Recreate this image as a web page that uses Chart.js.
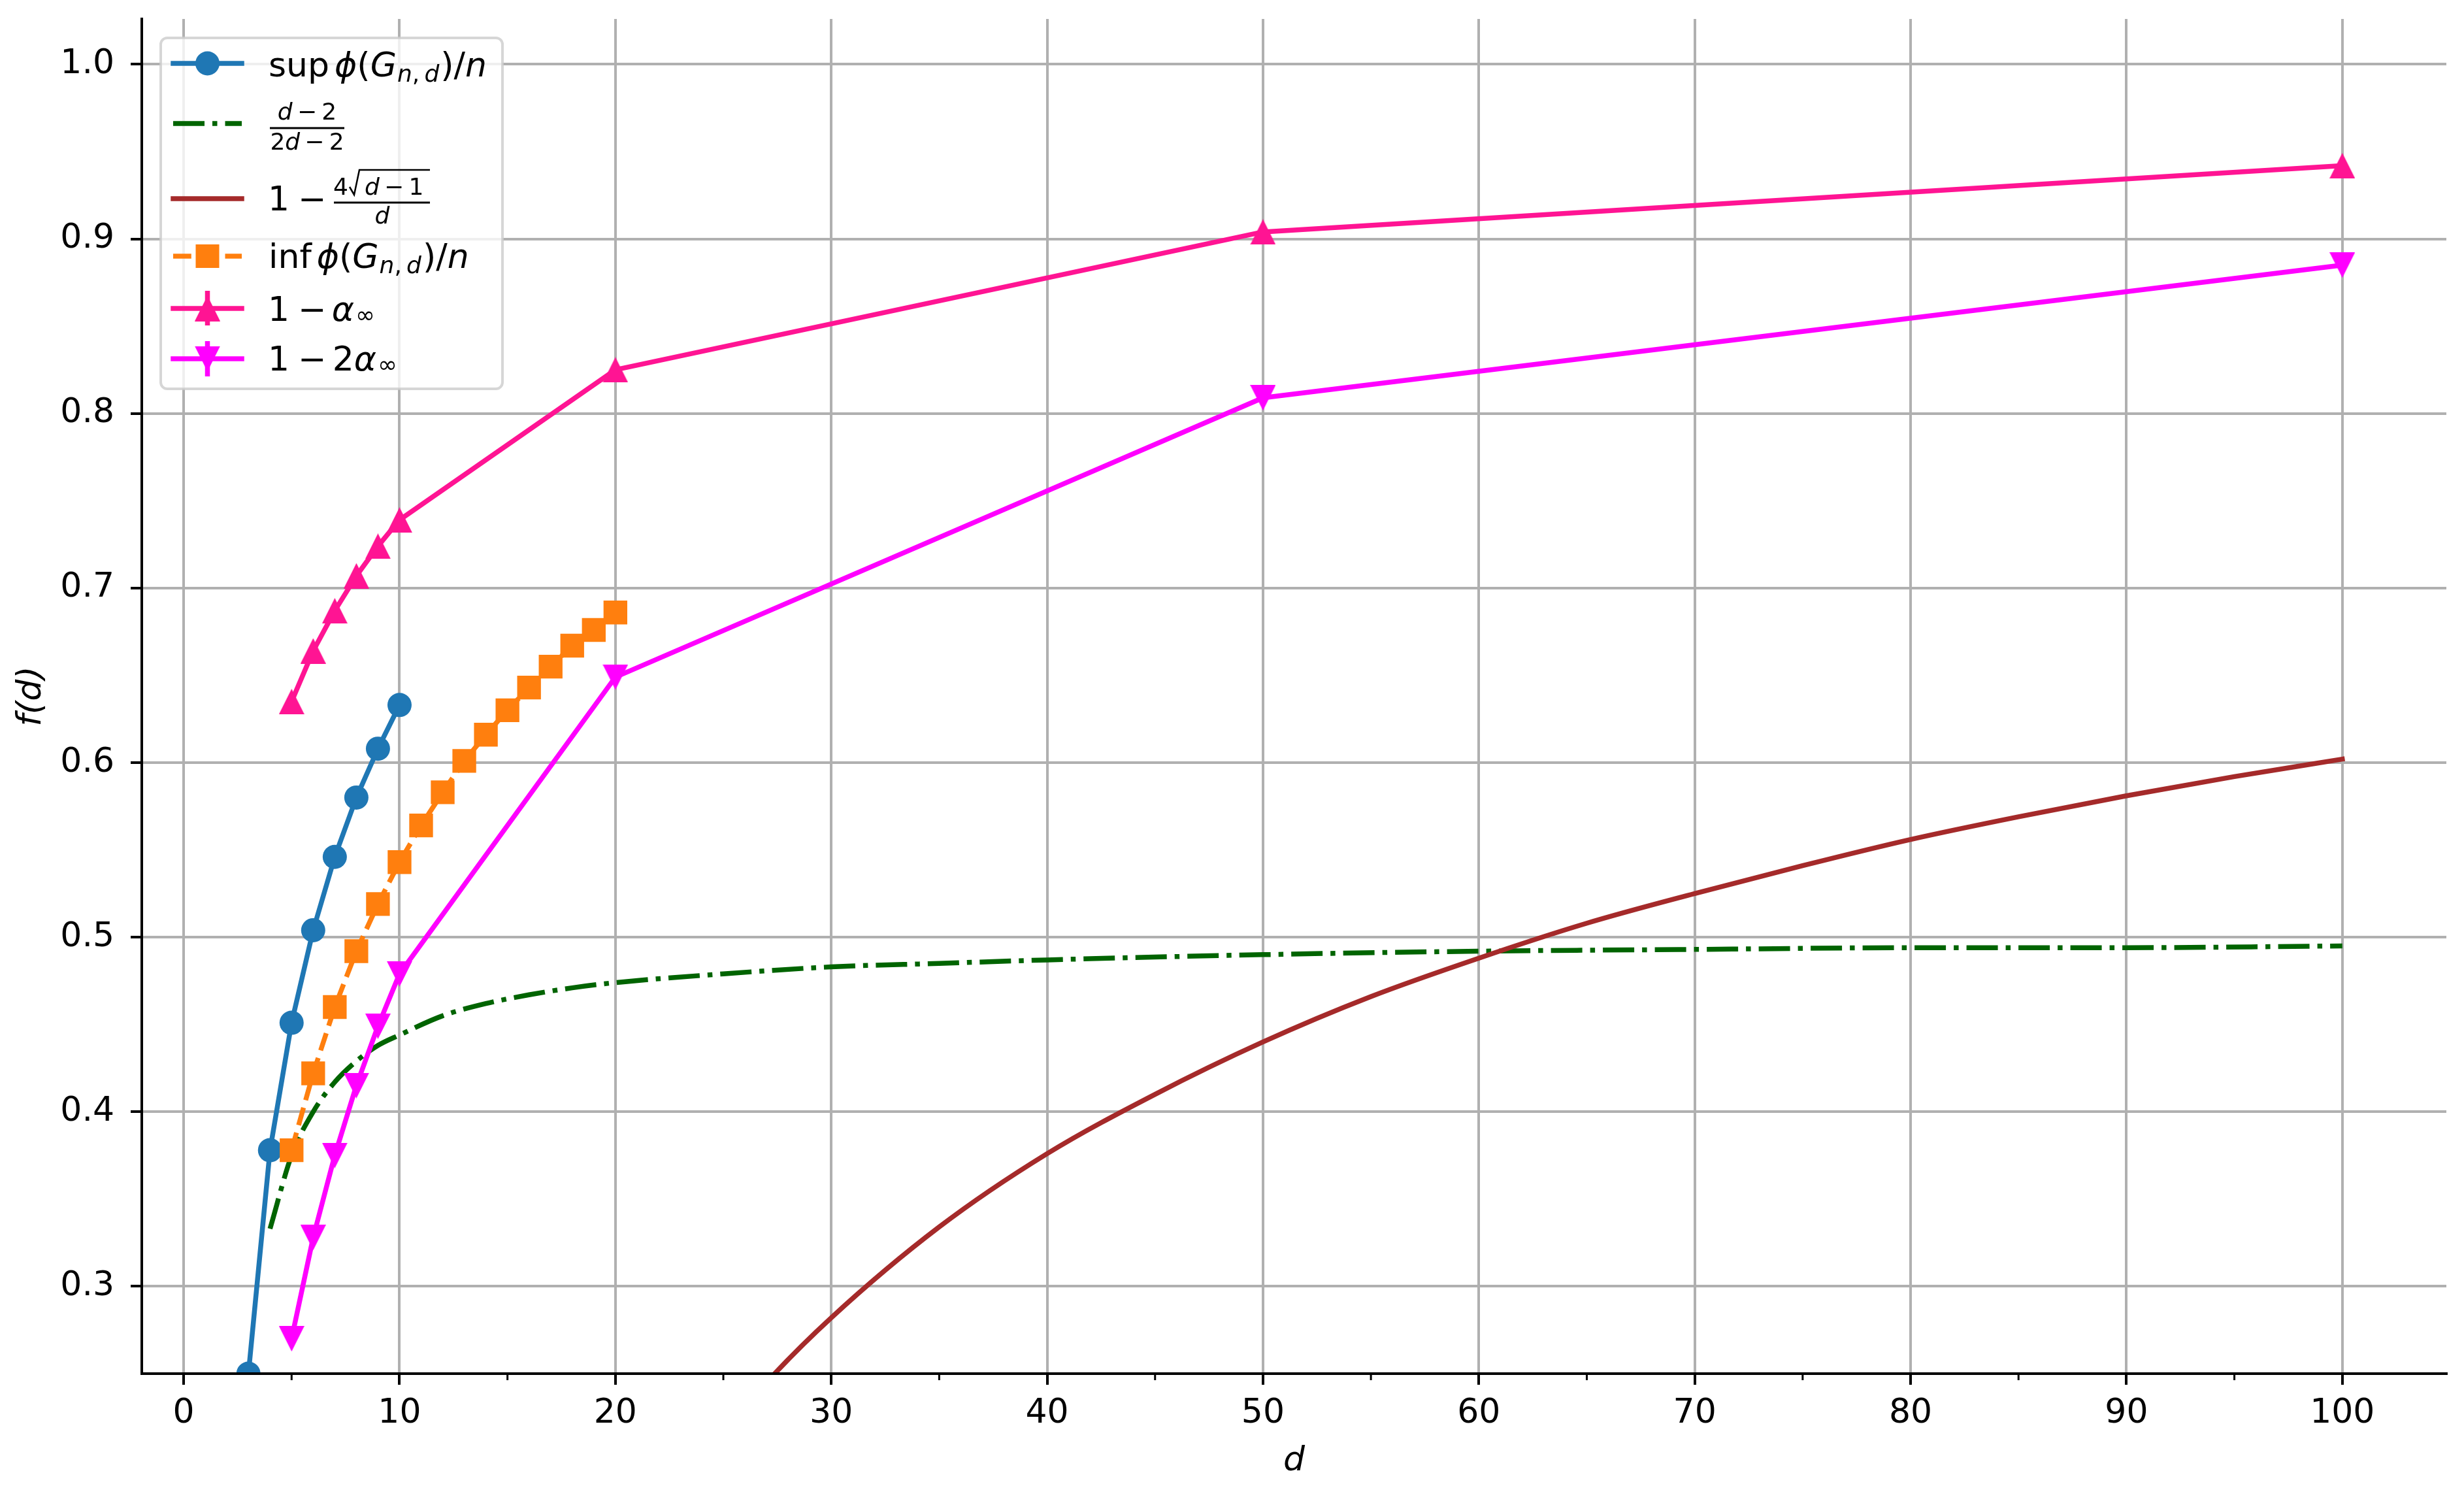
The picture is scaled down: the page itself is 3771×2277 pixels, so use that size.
<!DOCTYPE html>
<html>
<head>
<meta charset="utf-8">
<script src="https://cdn.jsdelivr.net/npm/chart.js@4.4.1/dist/chart.umd.min.js"></script>
<style>
html,body{margin:0;padding:0;background:#fff;overflow:hidden}
canvas{display:block}
</style>
</head>
<body>
<canvas id="chart" width="3771" height="2277"></canvas>
<script>
// values
const dSup=[3,4,5,6,7,8,9,10];
const supVals=[0.250,0.378,0.451,0.504,0.546,0.580,0.608,0.633];

const dInf=[5,6,7,8,9,10,11,12,13,14,15,16,17,18,19,20];
const infVals=[0.378,0.422,0.460,0.492,0.519,0.543,0.564,0.583,0.601,0.616,0.630,0.643,0.655,0.667,0.676,0.686];

const dAlpha=[5,6,7,8,9,10,20,50,100];
const oneMinusAlpha=[0.635,0.664,0.687,0.707,0.724,0.739,0.825,0.904,0.942];
const oneMinus2Alpha=[0.270,0.328,0.375,0.415,0.449,0.479,0.649,0.809,0.885];

const dHalf=[4,5,6,7,8,9,10,12,14,16,18,20,25,30,35,40,50,60,70,80,90,100];
const halfVals=[0.333,0.375,0.400,0.417,0.429,0.438,0.444,0.455,0.462,0.467,0.471,0.474,0.479,0.483,0.485,0.487,0.490,0.492,0.493,0.494,0.494,0.495];

const dRam=[25,27,30,35,40,45,50,55,60,65,70,75,80,85,90,95,100];
const ramVals=[0.216,0.245,0.282,0.334,0.376,0.410,0.440,0.466,0.488,0.508,0.525,0.541,0.556,0.569,0.581,0.592,0.602];

const xTicks=[0,10,20,30,40,50,60,70,80,90,100];
const xMinor=[5,15,25,35,45,55,65,75,85,95];
const yTicks=[0.3,0.4,0.5,0.6,0.7,0.8,0.9,1.0];

const FONT='"DejaVu Sans", sans-serif';
const FS=52;
const LW=7.5;
const C={sup:'#1f77b4',half:'#006400',ram:'#a52a2a',inf:'#ff7f0e',a1:'#ff1493',a2:'#ff00ff'};

function tri(color,down){
 const s=39,c=document.createElement('canvas');
 c.width=s;c.height=s;
 const g=c.getContext('2d');
 g.fillStyle=color;g.beginPath();
 if(down){g.moveTo(0,0);g.lineTo(s,0);g.lineTo(s/2,s);}
 else{g.moveTo(s/2,0);g.lineTo(s,s);g.lineTo(0,s);}
 g.closePath();g.fill();
 return c;
}
const triUp=tri(C.a1,false), triDown=tri(C.a2,true);

const pts=(xs,ys)=>xs.map((x,i)=>({x,y:ys[i]}));

function put(ctx,s,x,y,size,italic){
 ctx.font=(italic?'italic ':'')+size+'px '+FONT;
 ctx.fillText(s,x,y);
 return x+ctx.measureText(s).width;
}
function runsWidth(ctx,runs,size){
 let w=0;
 runs.forEach(r=>{ctx.font=(r[1]?'italic ':'')+size+'px '+FONT;w+=ctx.measureText(r[0]).width;});
 return w;
}
function putRuns(ctx,runs,cx,y,size){
 let x=cx-runsWidth(ctx,runs,size)/2;
 runs.forEach(r=>{x=put(ctx,r[0],x,y,size,r[1]);});
}
function phiG(ctx,x,y){
 x=put(ctx,'\u03D5',x,y,FS,true);
 x=put(ctx,'(',x,y,FS);
 x=put(ctx,'G',x,y,FS,true);
 x=put(ctx,'n',x+1,y+8,36,true);
 x=put(ctx,',\u2009',x,y+8,36);
 x=put(ctx,'d',x,y+8,36,true);
 x=put(ctx,')',x+2,y,FS);
 x=put(ctx,'/',x,y,FS);
 put(ctx,'n',x,y,FS,true);
}

const decor={
 id:'decor',
 afterDatasetsDraw(chart){
  const {ctx,chartArea:a,scales:{x}}=chart;
  ctx.save();
  ctx.strokeStyle='#000';
  ctx.lineWidth=3;
  xMinor.forEach(v=>{
   const p=x.getPixelForValue(v);
   ctx.beginPath();ctx.moveTo(p,a.bottom);ctx.lineTo(p,a.bottom+10);ctx.stroke();
  });
  ctx.lineWidth=4;
  ctx.lineCap='square';
  ctx.beginPath();
  ctx.moveTo(a.left,a.top);ctx.lineTo(a.left,a.bottom);ctx.lineTo(a.right,a.bottom);
  ctx.stroke();
  ctx.restore();
 },
 afterDraw(chart){
  const ctx=chart.ctx;
  ctx.save();
  // frame
  ctx.beginPath();
  ctx.roundRect(246,58,523,537,10);
  ctx.fillStyle='rgba(255,255,255,0.8)';
  ctx.fill();
  ctx.lineWidth=4;
  ctx.strokeStyle='rgba(204,204,204,0.8)';
  ctx.stroke();

  const rows=[97,189,304,392,472,549];
  const hx0=265,hx1=370,hm=317.5;
  const line=(y,color,dash)=>{
   ctx.save();
   ctx.strokeStyle=color;ctx.lineWidth=LW;
   ctx.setLineDash(dash||[]);
   ctx.lineCap=dash?'butt':'square';
   ctx.beginPath();ctx.moveTo(hx0,y);ctx.lineTo(hx1,y);ctx.stroke();
   ctx.restore();
  };
  // handles
  line(rows[0],C.sup);
  ctx.fillStyle=C.sup;ctx.beginPath();ctx.arc(hm,rows[0],18.5,0,Math.PI*2);ctx.fill();
  line(rows[1],C.half,[48,12,7.5,12]);
  line(rows[2],C.ram);
  line(rows[3],C.inf,[27.75,12]);
  ctx.fillStyle=C.inf;ctx.fillRect(hm-18,rows[3]-18,36,36);
  line(rows[4],C.a1);
  ctx.fillStyle=C.a1;ctx.fillRect(hm-3.75,445,7.5,53);
  ctx.drawImage(triUp,hm-19.5,rows[4]-19.5);
  line(rows[5],C.a2);
  ctx.fillStyle=C.a2;ctx.fillRect(hm-3.75,522,7.5,54);
  ctx.drawImage(triDown,hm-19.5,rows[5]-19.5);

  // labels
  ctx.fillStyle='#000';
  ctx.textBaseline='alphabetic';
  ctx.textAlign='left';
  let x;
  x=put(ctx,'sup',411,117,FS);
  phiG(ctx,x+8,117);

  putRuns(ctx,[['d',1],['\u2009\u2212\u2009',0],['2',0]],470,183,36);
  ctx.fillRect(413,194.5,114,3);
  putRuns(ctx,[['2',0],['d',1],['\u2009\u2212\u2009',0],['2',0]],470,229,36);

  x=put(ctx,'1',410,322,FS);
  put(ctx,'\u2212',x+13,322,FS);
  put(ctx,'4',510,298,36);
  ctx.save();
  ctx.strokeStyle='#000';ctx.lineWidth=2.5;ctx.lineJoin='miter';
  ctx.beginPath();ctx.moveTo(535,286);ctx.lineTo(542,298);ctx.lineTo(550,260);ctx.lineTo(658,260);ctx.stroke();
  ctx.restore();
  x=put(ctx,'d',558,298,36,true);
  put(ctx,'\u2009\u2212\u20091',x,298,36);
  ctx.fillRect(511,308.5,147,3);
  putRuns(ctx,[['d',1]],585,342,36);

  x=put(ctx,'inf',411,410,FS);
  phiG(ctx,x+8,410);

  x=put(ctx,'1',410,491,FS);
  x=put(ctx,'\u2212',x+13,491,FS);
  x=put(ctx,'\u03B1',x+8,491,FS,true);
  put(ctx,'\u221E',x+2,494,36);

  x=put(ctx,'1',410,567,FS);
  x=put(ctx,'\u2212',x+13,567,FS);
  x=put(ctx,'2',x+9,567,FS);
  x=put(ctx,'\u03B1',x,567,FS,true);
  put(ctx,'\u221E',x+2,570,36);
  ctx.restore();
 }
};

const chart=new Chart(document.getElementById('chart'),{
 type:'line',
 data:{datasets:[
  {label:'sup',data:pts(dSup,supVals),borderColor:C.sup,backgroundColor:C.sup,
   pointStyle:'circle',pointRadius:18.5,order:5},
  {label:'half',data:pts(dHalf,halfVals),borderColor:C.half,borderDash:[48,12,7.5,12],borderCapStyle:'butt',
   pointRadius:0,cubicInterpolationMode:'monotone',order:4},
  {label:'ram',data:pts(dRam,ramVals),borderColor:C.ram,pointRadius:0,cubicInterpolationMode:'monotone',order:3},
  {label:'inf',data:pts(dInf,infVals),borderColor:C.inf,backgroundColor:C.inf,borderDash:[27.75,12],borderCapStyle:'butt',
   pointStyle:'rect',pointRadius:25.7,order:2},
  {label:'a1',data:pts(dAlpha,oneMinusAlpha),borderColor:C.a1,backgroundColor:C.a1,
   pointStyle:triUp,pointRadius:19.5,order:1},
  {label:'a2',data:pts(dAlpha,oneMinus2Alpha),borderColor:C.a2,backgroundColor:C.a2,
   pointStyle:triDown,pointRadius:19.5,order:0}
 ]},
 options:{
  responsive:false,animation:false,devicePixelRatio:1,
  layout:{padding:{top:29,right:27,left:0,bottom:0}},
  datasets:{line:{clip:0,borderWidth:LW,borderJoinStyle:'round',borderCapStyle:'square',tension:0,
   pointBorderWidth:0,pointHoverRadius:19,fill:false}},
  plugins:{legend:{display:false},tooltip:{enabled:false}},
  events:[],
  scales:{
   x:{type:'linear',min:-1.94,max:104.82,bounds:'data',
    afterBuildTicks:s=>{s.ticks=xTicks.map(v=>({value:v}));},
    afterFit:s=>{s.height=175;s.paddingLeft=0;s.paddingRight=0;},
    grid:{color:'#b0b0b0',lineWidth:4,tickColor:'#000',tickWidth:4,tickLength:17},
    border:{display:false},
    ticks:{font:{family:FONT,size:FS},color:'#000',padding:13,autoSkip:false,maxRotation:0,callback:v=>String(v)},
    title:{display:true,text:'d',color:'#000',font:{family:FONT,size:FS,style:'italic'},padding:{top:0,bottom:9}}
   },
   y:{type:'linear',min:0.25,max:1.026,bounds:'data',
    afterBuildTicks:s=>{s.ticks=yTicks.map(v=>({value:v}));},
    afterFit:s=>{s.width=217;s.paddingTop=0;s.paddingBottom=0;},
    grid:{color:'#b0b0b0',lineWidth:4,tickColor:'#000',tickWidth:4,tickLength:17},
    border:{display:false},
    ticks:{font:{family:FONT,size:FS},color:'#000',padding:25,autoSkip:false,callback:v=>v.toFixed(1)},
    title:{display:true,text:'f(d)',color:'#000',font:{family:FONT,size:FS,style:'italic'},padding:{top:17,bottom:0}}
   }
  }
 },
 plugins:[decor]
});
</script>
</body>
</html>
